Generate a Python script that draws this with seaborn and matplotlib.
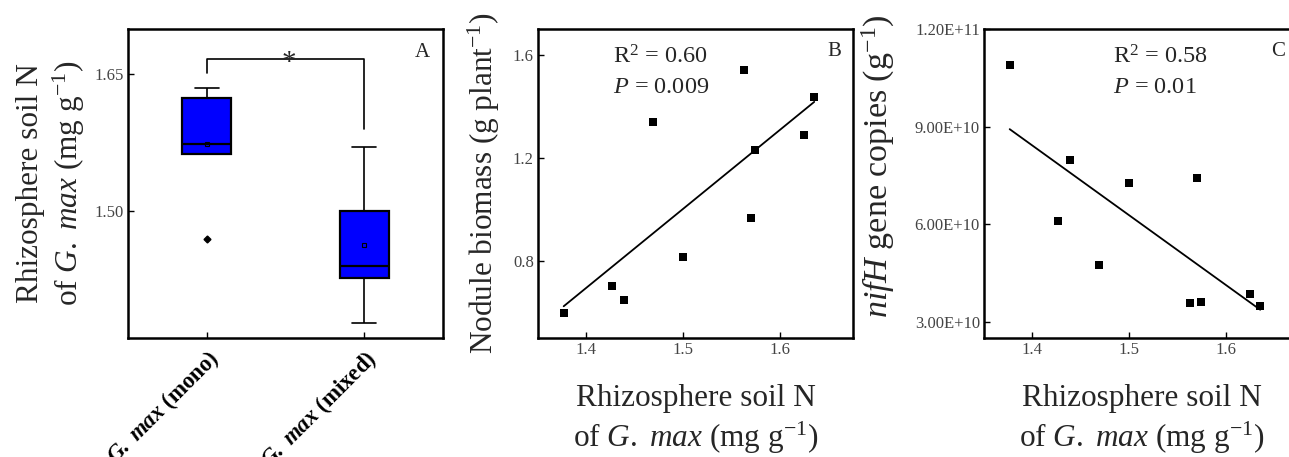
import numpy as np
import pandas as pd
import matplotlib
matplotlib.use("Agg")
import matplotlib.pyplot as plt
import seaborn as sns

# ---------------- data ----------------
groups = ["G. max (mono)", "G. max (mixed)"]
soilN_mono = [1.4686, 1.563, 1.574, 1.624, 1.635]
soilN_mixed = [1.3765, 1.426, 1.439, 1.500, 1.570]

# scatter panels (x = rhizosphere soil N)
soilN_x = [1.3765, 1.426, 1.439, 1.4686, 1.500, 1.563, 1.570, 1.574, 1.624, 1.635]
nodule_biomass = [0.597, 0.703, 0.649, 1.340, 0.814, 1.541, 0.967, 1.232, 1.288, 1.434]
nifH_copies = [1.089e11, 6.09e10, 7.98e10, 4.75e10, 7.25e10, 3.57e10, 7.42e10, 3.62e10, 3.86e10, 3.47e10]

A_yticks = [1.50, 1.65]
B_yticks = [0.8, 1.2, 1.6]
C_yticks = [3.0e10, 6.0e10, 9.0e10, 1.2e11]
BC_xticks = [1.4, 1.5, 1.6]
stats_B = ("0.60", "0.009")
stats_C = ("0.58", "0.01")
# significance bracket (data units)
bracket_top = 1.6665
bracket_left_end = 1.652
bracket_right_end = 1.590

# ---------------- style ----------------
sns.set_style("ticks")
plt.rcParams["font.family"] = ["Liberation Serif", "DejaVu Serif"]
plt.rcParams["mathtext.fontset"] = "custom"
plt.rcParams["mathtext.rm"] = "Liberation Serif"
plt.rcParams["mathtext.it"] = "Liberation Serif:italic"
plt.rcParams["mathtext.bf"] = "Liberation Serif:bold"
plt.rcParams["mathtext.bfit"] = "Liberation Serif:bold:italic"

fig = plt.figure(figsize=(12.89, 4.57), dpi=100)
W, H = 1289, 457
def ax_rect(left_px, top_px=29, w_px=315, h_px=309):
    return [left_px / W, (H - top_px - h_px) / H, w_px / W, h_px / H]

axA = fig.add_axes(ax_rect(128))
axB = fig.add_axes(ax_rect(538))
axC = fig.add_axes(ax_rect(984))

LABEL_FS = 22.5
TICK_FS = 12
tick_color = "#444444"

def style_axes(ax):
    for s in ax.spines.values():
        s.set_linewidth(1.8)
        s.set_color("black")
        s.set_visible(True)
    ax.tick_params(direction="in", length=4, width=1, labelsize=TICK_FS,
                   labelcolor=tick_color, color="black", pad=3)

# ---------------- Panel A ----------------
dfA = pd.DataFrame({
    "group": [groups[0]] * len(soilN_mono) + [groups[1]] * len(soilN_mixed),
    "N": soilN_mono + soilN_mixed,
})
sns.boxplot(data=dfA, x="group", y="N", order=groups, ax=axA,
            width=0.31, color="#0000FF", saturation=1, linecolor="black",
            linewidth=1.6, whis=1.5, showmeans=True,
            meanprops=dict(marker="s", markersize=3, markerfacecolor="none",
                           markeredgecolor="black", markeredgewidth=0.8),
            flierprops=dict(marker="D", markersize=3.5, markerfacecolor="black",
                            markeredgecolor="black"),
            whiskerprops=dict(linewidth=1.2), capprops=dict(linewidth=1.2))
style_axes(axA)
axA.set_ylim(1.36, 1.70)
axA.set_xlim(-0.5, 1.5)
axA.set_yticks(A_yticks)
axA.set_yticklabels([f"{v:.2f}" for v in A_yticks])
axA.set_xticks([0, 1])
axA.set_xticklabels([r"$\mathbfit{G.\ max}$ (mono)", r"$\mathbfit{G.\ max}$ (mixed)"],
                    rotation=45, ha="right", rotation_mode="anchor",
                    fontsize=16.5, fontweight="bold", color="black")
axA.tick_params(axis="x", pad=6)
axA.set_xlabel("")
axA.set_ylabel("Rhizosphere soil N\nof $\\it{G.\\ max}$ (mg g$^{-1}$)",
               fontsize=LABEL_FS, linespacing=1.2)
axA.yaxis.set_label_coords(-0.13, 0.5)
axA.plot([0, 0, 1, 1], [bracket_left_end, bracket_top, bracket_top, bracket_right_end],
         color="black", lw=1.2)
axA.text(0.52, bracket_top - 0.012, "*", ha="center", va="baseline", fontsize=21)
axA.text(0.935, 0.925, "A", transform=axA.transAxes, ha="center", va="center", fontsize=15)

# ---------------- Panel B ----------------
sns.regplot(x=soilN_x, y=nodule_biomass, ax=axB, ci=None, marker="s",
            scatter_kws=dict(s=34, color="black", linewidths=0, alpha=1),
            line_kws=dict(color="black", lw=1.3))
style_axes(axB)
axB.set_xlim(1.35, 1.675)
axB.set_ylim(0.5, 1.7)
axB.set_xticks(BC_xticks)
axB.set_xticklabels([f"{v:.1f}" for v in BC_xticks])
axB.set_yticks(B_yticks)
axB.set_yticklabels([f"{v:.1f}" for v in B_yticks])
axB.set_ylabel("Nodule biomass (g plant$^{-1}$)", fontsize=LABEL_FS)
axB.yaxis.set_label_coords(-0.115, 0.5)
axB.set_xlabel("Rhizosphere soil N\nof $\\it{G.\\ max}$ (mg g$^{-1}$)",
               fontsize=LABEL_FS, linespacing=1.25, va="top")
axB.xaxis.set_label_coords(0.5, -0.15)
axB.text(0.238, 0.909, f"R$^2$ = {stats_B[0]}", transform=axB.transAxes,
         ha="left", va="center", fontsize=17.5)
axB.text(0.238, 0.812, f"$P$ = {stats_B[1]}", transform=axB.transAxes,
         ha="left", va="center", fontsize=17.5)
axB.text(0.94, 0.926, "B", transform=axB.transAxes, ha="center", va="center", fontsize=15)

# ---------------- Panel C ----------------
sns.regplot(x=soilN_x, y=nifH_copies, ax=axC, ci=None, marker="s",
            scatter_kws=dict(s=34, color="black", linewidths=0, alpha=1),
            line_kws=dict(color="black", lw=1.3))
style_axes(axC)
axC.set_xlim(1.35, 1.675)
axC.set_ylim(2.5e10, 1.2e11)
axC.set_xticks(BC_xticks)
axC.set_xticklabels([f"{v:.1f}" for v in BC_xticks])
axC.set_yticks(C_yticks)
axC.set_yticklabels([f"{v:.2E}" for v in C_yticks])
axC.set_ylabel("$\\it{nifH}$ gene copies (g$^{-1}$)", fontsize=24.5)
axC.yaxis.set_label_coords(-0.275, 0.555)
axC.set_xlabel("Rhizosphere soil N\nof $\\it{G.\\ max}$ (mg g$^{-1}$)",
               fontsize=LABEL_FS, linespacing=1.25, va="top")
axC.xaxis.set_label_coords(0.5, -0.15)
axC.text(0.41, 0.909, f"R$^2$ = {stats_C[0]}", transform=axC.transAxes,
         ha="left", va="center", fontsize=17.5)
axC.text(0.41, 0.812, f"$P$ = {stats_C[1]}", transform=axC.transAxes,
         ha="left", va="center", fontsize=17.5)
axC.text(0.933, 0.926, "C", transform=axC.transAxes, ha="center", va="center", fontsize=15)

fig.savefig("out.png", dpi=100)
